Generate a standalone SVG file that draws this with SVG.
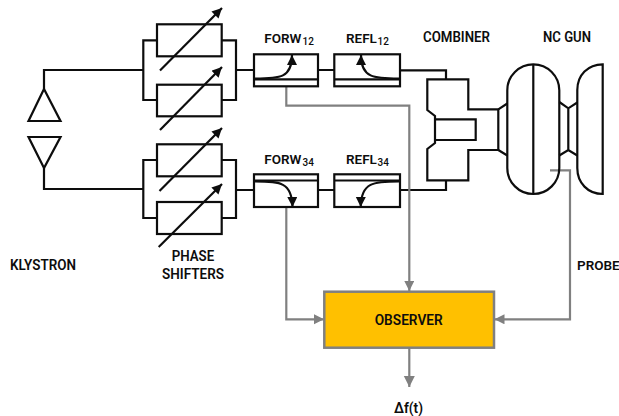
<svg xmlns="http://www.w3.org/2000/svg" width="619" height="416" viewBox="0 0 619 416">
<style>
.k{fill:none;stroke:#0d0d0d;stroke-width:2.200;stroke-linejoin:miter}
.g{fill:none;stroke:#808080;stroke-width:2.200}
.t{font-family:"Roboto","Liberation Sans",sans-serif;font-weight:600;font-size:15.500px;fill:#0d0d0d}
.n{font-size:13.500px}
.s{font-size:10px;font-weight:500}
.a{fill:none;stroke:#0d0d0d;stroke-width:2.200;marker-end:url(#ka)}
</style>
<defs>
<marker id="ka" markerUnits="userSpaceOnUse" markerWidth="12" markerHeight="11" refX="10" refY="5" orient="auto"><path d="M0 0L10 5L0 10Z" fill="#0d0d0d"/></marker>
<marker id="ga" markerUnits="userSpaceOnUse" markerWidth="12" markerHeight="12" refX="10" refY="5" orient="auto"><path d="M0 0L10 5L0 10Z" fill="#808080"/></marker>
<marker id="gb" markerUnits="userSpaceOnUse" markerWidth="12" markerHeight="12" refX="11" refY="6" orient="auto"><path d="M0 .5L11 6L0 11.500Z" fill="#808080"/></marker>
</defs>
<g id="connectors">
<path class="k" d="M44 89V70H143M44 168V189H143M236 70H254M236 190H254M318 70H334M318 190H334M400 70.300H446V79M400 190H446V180"/>
<path class="g" d="M286.300 87V105.700H409.300V291" marker-end="url(#ga)"/>
<path class="g" d="M286.300 207V319.300H324" marker-end="url(#ga)"/>
<path class="g" d="M550 170.300H570V319.300H494.500" marker-end="url(#ga)"/>
<path class="g" d="M409.300 348V387" marker-end="url(#gb)"/>
</g>
<g id="klystron">
<path class="k" d="M44 89L28.500 121H60.500Z"/>
<path class="k" d="M44 168L28.500 137H60.500Z"/>
<text class="t" x="10" y="270" textLength="66" lengthAdjust="spacingAndGlyphs">KLYSTRON</text>
</g>
<g id="phase-shifters-12">
<path class="k" d="M157 40.300H143.300V100H157M221.700 40.300H236V100H221.700"/>
<rect class="k" x="157" y="24.300" width="64.700" height="32"/>
<rect class="k" x="157" y="84.700" width="64.700" height="31.600"/>
<path class="a" d="M160 70.500L222 8"/>
<path class="a" d="M160 130L222 67"/>
</g>
<g id="phase-shifters-34">
<path class="k" d="M157 160H143.300V218H157M221.700 160H236V218H221.700"/>
<rect class="k" x="157" y="144.300" width="64.700" height="32"/>
<rect class="k" x="157" y="202" width="64.700" height="32"/>
<path class="a" d="M159.500 191L222 128"/>
<path class="a" d="M158.700 247L222 184"/>
<text class="t" x="171.700" y="261" textLength="42.500" lengthAdjust="spacingAndGlyphs">PHASE</text>
<text class="t" x="162" y="279" textLength="62" lengthAdjust="spacingAndGlyphs">SHIFTERS</text>
</g>
<g id="forw12">
<rect class="k" x="254" y="54.300" width="64" height="32"/>
<path class="k" d="M254 79.300H318"/>
<path class="a" d="M255 78.500C280 78.500 292 78 292 55"/>
<text class="t n" x="264.300" y="42.700">FORW</text>
<text class="t s" x="302.500" y="44.700">12</text>
</g>
<g id="refl12">
<rect class="k" x="334.300" y="54.300" width="65.700" height="32"/>
<path class="k" d="M334.300 79.300H400"/>
<path class="a" d="M399 78.500C374 78.500 361 78 361 55"/>
<text class="t n" x="346" y="42.700">REFL</text>
<text class="t s" x="377.500" y="44.700">12</text>
</g>
<g id="forw34">
<rect class="k" x="254" y="174.300" width="64" height="32.700"/>
<path class="k" d="M254 180.500H318"/>
<path class="a" d="M255 181.500C280 181.500 292 182 292.500 207"/>
<text class="t n" x="264.300" y="164">FORW</text>
<text class="t s" x="302.500" y="166">34</text>
</g>
<g id="refl34">
<rect class="k" x="334.300" y="174.300" width="65.700" height="32.700"/>
<path class="k" d="M334.300 180.500H400"/>
<path class="a" d="M399 181.500C374 181.500 361 182 360.700 207"/>
<text class="t n" x="346" y="164">REFL</text>
<text class="t s" x="377.500" y="166">34</text>
</g>
<g id="combiner">
<path class="k" d="M498.300 109.300H468.300V79.300H427.300V110L435 116V143L427.300 149V180.300H468.300V150H498.300Z"/>
<path class="k" d="M435 119.300H475.700V140H435"/>
<text class="t" x="423" y="42" textLength="67" lengthAdjust="spacingAndGlyphs">COMBINER</text>
</g>
<g id="nc-gun">
<rect class="k" x="507.300" y="64.300" width="52" height="129.700" rx="26" ry="26"/>
<path class="k" d="M533.300 64.300V194M498.300 109.300L507.300 103.500M498.300 150L507.300 155.500"/>
<path class="k" d="M602.700 64.300V194C588 194 577.300 183 577.300 168V90C577.300 75 588 64.300 602.700 64.300Z"/>
<path class="k" d="M559.300 102L568.300 108.300L577.300 102.500M559.300 155.500L568.300 150L577.300 155.500M568.300 108.300V150"/>
<text class="t" x="543" y="42" textLength="48" lengthAdjust="spacingAndGlyphs">NC GUN</text>
</g>
<g id="observer">
<rect x="324.300" y="291.700" width="169.700" height="56" fill="#ffc000" stroke="#808080" stroke-width="2.500"/>
<text class="t" x="374.700" y="325" textLength="68" lengthAdjust="spacingAndGlyphs">OBSERVER</text>
</g>
<g id="labels">
<text class="t n" x="577" y="270">PROBE</text>
<text class="t" x="394" y="412.500" textLength="29" lengthAdjust="spacingAndGlyphs">Δf(t)</text>
</g>
</svg>
